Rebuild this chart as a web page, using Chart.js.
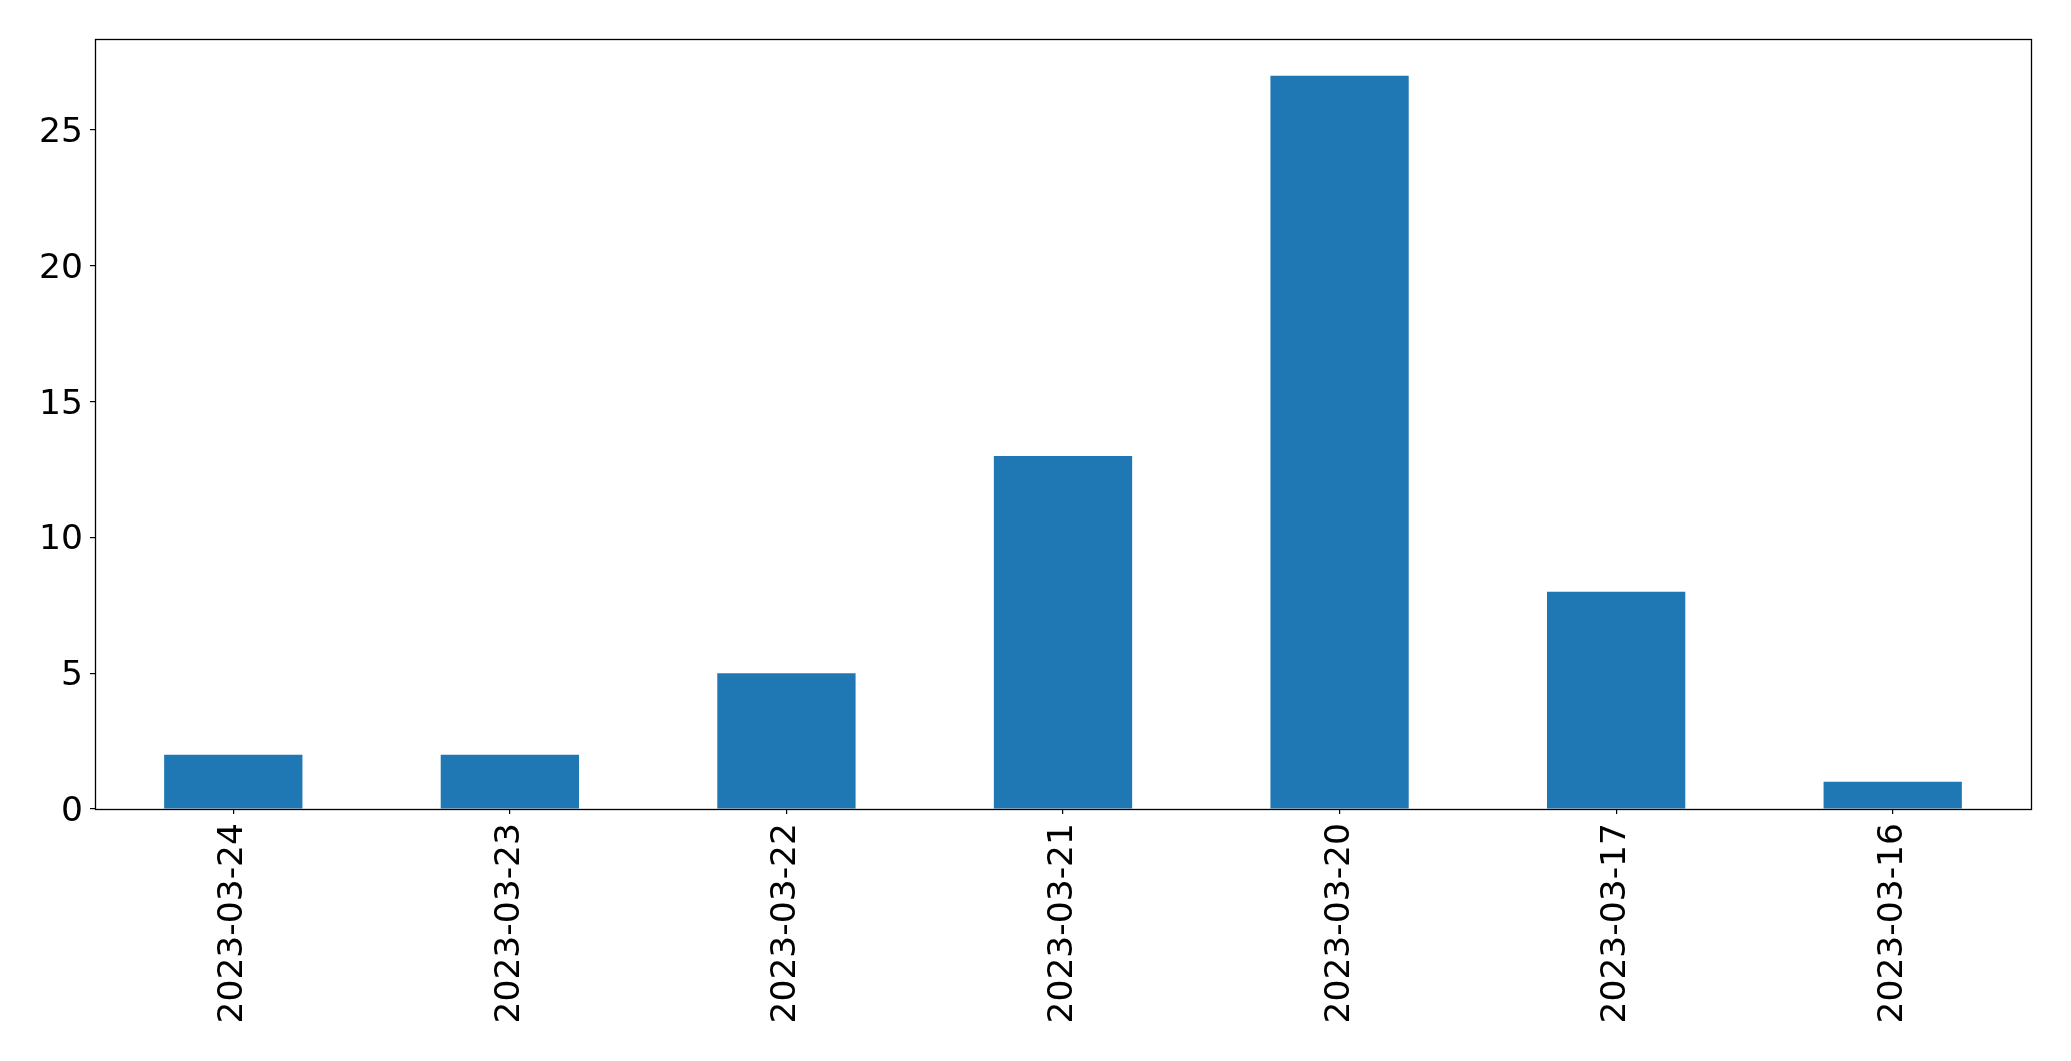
<!DOCTYPE html>
<html>
<head>
<meta charset="utf-8">
<script src="https://cdn.jsdelivr.net/npm/chart.js@4"></script>
<style>
  html, body { margin: 0; padding: 0; background: #fff; }
  #wrap { width: 2071px; height: 1061px; }
</style>
</head>
<body>
<div id="wrap"><canvas id="chart"></canvas></div>
<script>
// counts per day, in the order shown on the x axis
const dates = ['2023-03-24', '2023-03-23', '2023-03-22', '2023-03-21', '2023-03-20', '2023-03-17', '2023-03-16'];
const counts = [2, 2, 5, 13, 27, 8, 1];
const yTicks = [0, 5, 10, 15, 20, 25];

const tickFont = { family: 'DejaVu Sans', size: 34.5 };

// black frame round the plot area, like the matplotlib axes box
const frame = {
  id: 'frame',
  afterDraw(chart) {
    const { ctx, chartArea: a } = chart;
    const l = Math.round(a.left) + 0.5, t = Math.round(a.top) + 0.5;
    const r = Math.round(a.right) + 0.5, b = Math.round(a.bottom) + 0.5;
    ctx.save();
    ctx.strokeStyle = '#000';
    ctx.lineWidth = 1.3;
    ctx.strokeRect(l, t, r - l, b - t);
    ctx.restore();
  }
};

const ctx = document.getElementById('chart').getContext('2d');
new Chart(ctx, {
  type: 'bar',
  data: {
    labels: dates,
    datasets: [{
      data: counts,
      backgroundColor: '#1f77b4',
      borderWidth: 0,
      barPercentage: 0.5,
      categoryPercentage: 1.0
    }]
  },
  options: {
    responsive: true,
    maintainAspectRatio: false,
    animation: false,
    layout: { padding: { top: 39, right: 40, left: 0, bottom: 0 } },
    plugins: { legend: { display: false }, tooltip: { enabled: false } },
    scales: {
      x: {
        grid: { display: true, offset: false, drawOnChartArea: false, drawTicks: true, tickLength: 5, color: '#000', lineWidth: 1.2 },
        border: { display: false },
        ticks: { color: '#000', font: tickFont, minRotation: 90, maxRotation: 90, padding: 9, autoSkip: false },
        afterFit(scale) { scale.height = 252; }
      },
      y: {
        min: 0,
        max: 28.35,
        grid: { display: true, drawOnChartArea: false, drawTicks: true, tickLength: 5, color: '#000', lineWidth: 1.2 },
        border: { display: false },
        ticks: { color: '#000', font: tickFont, padding: 7, labelOffset: 3 },
        afterBuildTicks(scale) { scale.ticks = yTicks.map(v => ({ value: v })); },
        afterFit(scale) { scale.width = 95; }
      }
    }
  },
  plugins: [frame]
});
</script>
</body>
</html>
